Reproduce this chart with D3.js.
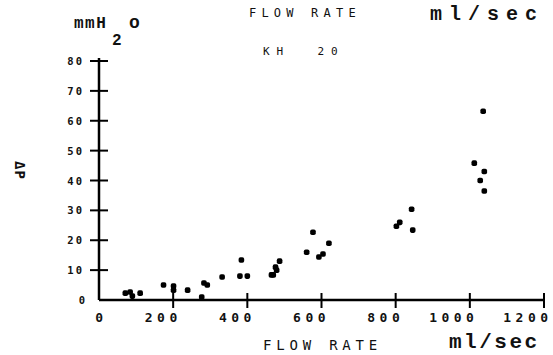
<!DOCTYPE html>
<html>
<head>
<meta charset="utf-8">
<script src="https://cdn.jsdelivr.net/npm/d3@7"></script>
<style>
    body { margin: 0; background: #fff; }
    svg { display: block; }
    .xlab { font-family: "DejaVu Sans Mono", monospace; font-size: 13px; font-weight: bold; fill: #111; letter-spacing: 4.5px; }
    .ylab { font-family: "DejaVu Sans Mono", monospace; font-size: 10.5px; font-weight: bold; fill: #111; letter-spacing: 2px; }
    .caps { font-family: "DejaVu Sans Mono", monospace; fill: #111; white-space: pre; }
    .unit { font-family: "Liberation Mono", "DejaVu Sans Mono", monospace; font-weight: bold; fill: #111; }
</style>
</head>
<body>
<svg id="chart" width="553" height="355"></svg>
<script>
// flow rate (ml/sec)
var flowRate = [71, 84, 90, 111, 174, 201, 201, 239, 277, 283, 292, 332, 384, 380, 400,
                465, 470, 476, 479, 487, 560, 577, 593, 604, 620,
                802, 811, 843, 846, 1012, 1028, 1036, 1039, 1039]
// pressure drop (mmH2O)
var deltaP   = [2.3, 2.7, 1.3, 2.3, 5.0, 4.7, 3.3, 3.3, 1.0, 5.7, 5.0, 7.7, 13.4, 8.0, 8.0,
                8.4, 8.4, 11, 10, 13, 16, 22.7, 14.4, 15.4, 19,
                24.7, 26, 30.4, 23.4, 45.8, 40, 63.2, 43, 36.5]
var xTicks = [0, 200, 400, 600, 800, 1000, 1200]
var yTicks = [0, 10, 20, 30, 40, 50, 60, 70, 80]

var svg = d3.select('#chart')
var x = d3.scaleLinear().domain([0, 1200]).range([99, 544])
var y = d3.scaleLinear().domain([0, 80]).range([300, 61])

// axes drawn by hand, like a plotter
svg.append('line')
    .attr('x1', x(0)).attr('x2', x(1200) + 1)
    .attr('y1', y(0)).attr('y2', y(0))
    .attr('stroke', '#000').attr('stroke-width', 2.5)
svg.append('line')
    .attr('x1', x(0)).attr('x2', x(0))
    .attr('y1', y(0)).attr('y2', y(80) - 3)
    .attr('stroke', '#000').attr('stroke-width', 2.5)

svg.selectAll('.xtick').data(xTicks.slice(1)).enter()
    .append('line')
    .attr('x1', function(d) { return x(d) }).attr('x2', function(d) { return x(d) })
    .attr('y1', y(0) - 7).attr('y2', y(0) + 8)
    .attr('stroke', '#000').attr('stroke-width', 2)
// plotter puts the label's right edge just past the tick
svg.selectAll('.xlab').data(xTicks).enter()
    .append('text')
    .attr('class', 'xlab')
    .attr('x', function(d) {
        var n = String(d).length
        return x(d) + 4 - (n * 7.8 + (n - 1) * 4.5)
    })
    .attr('y', 322)
    .text(function(d) { return d })

svg.selectAll('.ytick').data(yTicks.slice(1)).enter()
    .append('line')
    .attr('x1', x(0) - 9).attr('x2', x(0) + 9)
    .attr('y1', function(d) { return y(d) }).attr('y2', function(d) { return y(d) })
    .attr('stroke', '#000').attr('stroke-width', 2)
svg.selectAll('.ylab').data(yTicks).enter()
    .append('text')
    .attr('class', 'ylab')
    .attr('x', function(d) { return d === 0 ? 87 : 84 })
    .attr('y', function(d) { return y(d) + 4 })
    .attr('text-anchor', 'end')
    .text(function(d) { return d })

// points
svg.selectAll('.pt').data(flowRate).enter()
    .append('rect')
    .attr('x', function(d) { return x(d) - 2.8 })
    .attr('y', function(d, i) { return y(deltaP[i]) - 2.8 })
    .attr('width', 5.6).attr('height', 5.6)
    .attr('rx', 1.8)
    .attr('fill', '#000')

// titles and units
svg.append('text').attr('class', 'caps').attr('x', 249).attr('y', 17)
    .style('font-size', '12px').style('letter-spacing', '5.2px').text('FLOW RATE')
svg.append('text').attr('class', 'caps').attr('x', 263).attr('y', 55)
    .style('font-size', '11px').style('letter-spacing', '7px').text('KH  20')
svg.append('text').attr('class', 'unit').attr('x', 430).attr('y', 20)
    .style('font-size', '20px').style('letter-spacing', '7px').text('ml/sec')
svg.append('text').attr('class', 'caps').attr('x', 263).attr('y', 350)
    .style('font-size', '14px').style('letter-spacing', '4.8px').text('FLOW RATE')
svg.append('text').attr('class', 'unit').attr('x', 449).attr('y', 348)
    .style('font-size', '21px').style('letter-spacing', '2.5px').text('ml/sec')

// mmH2o, with the 2 set low as a subscript
svg.append('text').attr('class', 'unit').attr('x', 74).attr('y', 28)
    .style('font-size', '16px').style('letter-spacing', '1.5px').text('mmH')
svg.append('text').attr('class', 'unit').attr('x', 112).attr('y', 45)
    .style('font-size', '16px').text('2')
svg.append('text').attr('class', 'unit').attr('x', 129).attr('y', 28)
    .style('font-size', '18px').text('o')

svg.append('text')
    .attr('class', 'caps')
    .attr('transform', 'translate(15,161) rotate(90)')
    .style('font-size', '14px')
    .style('font-weight', 'bold')
    .style('letter-spacing', '1px')
    .text('ΔP')
</script>
</body>
</html>
